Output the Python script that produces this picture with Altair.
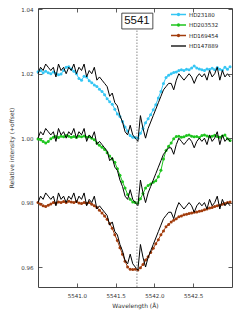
import altair as alt
import pandas as pd

# ---------------- data ----------------
wavelength = [
    5540.500, 5540.533, 5540.566, 5540.599, 5540.632, 5540.665, 5540.698, 5540.731,
    5540.764, 5540.797, 5540.830, 5540.863, 5540.896, 5540.929, 5540.962, 5540.995,
    5541.028, 5541.061, 5541.094, 5541.127, 5541.160, 5541.193, 5541.226, 5541.259,
    5541.292, 5541.325, 5541.358, 5541.391, 5541.424, 5541.457, 5541.490, 5541.523,
    5541.556, 5541.589, 5541.622, 5541.655, 5541.688, 5541.721, 5541.754, 5541.787,
    5541.820, 5541.853, 5541.886, 5541.919, 5541.952, 5541.985, 5542.018, 5542.051,
    5542.084, 5542.117, 5542.150, 5542.183, 5542.216, 5542.249, 5542.282, 5542.315,
    5542.348, 5542.381, 5542.414, 5542.447, 5542.480, 5542.513, 5542.546, 5542.579,
    5542.612, 5542.645, 5542.678, 5542.711, 5542.744, 5542.777, 5542.810, 5542.843,
    5542.876, 5542.909, 5542.942, 5542.975,
]

hd23180 = [
    1.0206, 1.0210, 1.0203, 1.0208, 1.0203, 1.0200, 1.0205, 1.0201, 1.0197, 1.0199,
    1.0210, 1.0220, 1.0222, 1.0215, 1.0208, 1.0200, 1.0185, 1.0180, 1.0192, 1.0190,
    1.0178, 1.0172, 1.0165, 1.0160, 1.0152, 1.0145, 1.0135, 1.0122, 1.0113, 1.0105,
    1.0090, 1.0075, 1.0067, 1.0052, 1.0035, 1.0022, 1.0008, 1.0003, 1.0002, 1.0000,
    1.0015, 1.0030, 1.0048, 1.0060, 1.0073, 1.0088, 1.0104, 1.0125, 1.0145, 1.0170,
    1.0188, 1.0195, 1.0200, 1.0204, 1.0205, 1.0210, 1.0212, 1.0210, 1.0214, 1.0212,
    1.0218, 1.0224, 1.0218, 1.0215, 1.0212, 1.0210, 1.0215, 1.0213, 1.0217, 1.0212,
    1.0219, 1.0214, 1.0211, 1.0220, 1.0214, 1.0222,
]

hd203532 = [
    0.9997, 0.9995, 0.9990, 0.9985, 0.9990, 0.9998, 1.0003, 1.0005, 1.0002, 1.0006,
    1.0004, 1.0008, 1.0006, 1.0003, 1.0005, 1.0002, 1.0006, 1.0004, 1.0007, 1.0003,
    1.0004, 1.0000, 0.9995, 0.9985, 0.9978, 0.9972, 0.9965, 0.9955, 0.9945, 0.9935,
    0.9925, 0.9905, 0.9885, 0.9865, 0.9845, 0.9825, 0.9810, 0.9802, 0.9800, 0.9799,
    0.9812, 0.9828, 0.9845, 0.9853, 0.9858, 0.9863, 0.9868, 0.9880, 0.9900, 0.9935,
    0.9962, 0.9975, 0.9985, 0.9998, 1.0005, 1.0006, 1.0003, 1.0004, 1.0008, 1.0010,
    1.0006, 1.0004, 1.0005, 1.0002, 1.0008, 1.0010, 1.0007, 1.0004, 1.0006, 1.0009,
    1.0005, 1.0003, 1.0007, 1.0010, 0.9998, 0.9993,
]

hd169454 = [
    0.9800, 0.9795, 0.9790, 0.9788, 0.9792, 0.9796, 0.9800, 0.9798, 0.9802, 0.9800,
    0.9803, 0.9800, 0.9804, 0.9802, 0.9800, 0.9803, 0.9799, 0.9797, 0.9800, 0.9798,
    0.9800, 0.9795, 0.9790, 0.9785, 0.9776, 0.9768, 0.9758, 0.9748, 0.9735, 0.9720,
    0.9700, 0.9682, 0.9660, 0.9640, 0.9618, 0.9600, 0.9593, 0.9592, 0.9593, 0.9591,
    0.9598, 0.9608, 0.9622, 0.9632, 0.9645, 0.9658, 0.9672, 0.9685, 0.9700, 0.9712,
    0.9725, 0.9732, 0.9740, 0.9745, 0.9750, 0.9756, 0.9758, 0.9762, 0.9764, 0.9766,
    0.9768, 0.9770, 0.9771, 0.9773, 0.9775, 0.9778, 0.9780, 0.9783, 0.9785, 0.9788,
    0.9790, 0.9792, 0.9795, 0.9797, 0.9800, 0.9802,
]

# comparison star (drawn three times with offsets)
hd147889 = [
    1.000, 1.002, 1.001, 1.003, 1.002, 1.001, 1.002, 0.999, 1.003, 1.001,
    1.002, 1.000, 1.002, 1.001, 1.003, 1.000, 1.002, 1.001, 1.003, 0.999,
    1.001, 1.000, 1.002, 0.998, 0.999, 0.998, 0.997, 0.996, 0.993, 0.994,
    0.991, 0.990, 0.987, 0.985, 0.982, 0.981, 0.984, 0.981, 0.980, 0.979,
    0.987, 0.983, 0.980, 0.983, 0.985, 0.987, 0.989, 0.991, 0.993, 0.995,
    0.996, 0.997, 0.997, 0.995, 0.998, 1.000, 0.999, 0.998, 0.999, 1.000,
    0.999, 0.997, 0.999, 1.000, 0.999, 1.000, 0.998, 1.001, 0.999, 1.000,
    1.002, 0.998, 1.001, 0.999, 1.000, 0.999,
]
black_offsets = [0.02, 0.00, -0.02]

series_names = ["HD23180", "HD203532", "HD169454", "HD147889"]
series_colors = ["#35c6f4", "#1ec51e", "#a23c0c", "#000000"]

x_ticks = [5541.0, 5541.5, 5542.0, 5542.5]
y_ticks = [0.96, 0.98, 1.00, 1.02, 1.04]
x_domain = [5540.5, 5543.0]
y_domain = [0.9538, 1.0404]

line_label = "5541"
line_wavelength = 5541.775
box_x = [5541.58, 5541.98]
box_y = [1.0339, 1.0388]
label_y = 1.0364

# ---------------- tables ----------------
colored = pd.DataFrame(
    [
        {"wavelength": w, "value": v, "series": name}
        for name, vals in zip(series_names[:3], [hd23180, hd203532, hd169454])
        for w, v in zip(wavelength, vals)
    ]
)
black = pd.DataFrame(
    [
        {"wavelength": w, "value": v + off, "copy": k}
        for k, off in enumerate(black_offsets)
        for w, v in zip(wavelength, hd147889)
    ]
)
legend_df = pd.DataFrame({"series": series_names})
rule_df = pd.DataFrame({"x": [line_wavelength], "y": [y_domain[0]], "y2": [box_y[0]]})
box_df = pd.DataFrame({"x": [box_x[0]], "x2": [box_x[1]], "y": [box_y[0]], "y2": [box_y[1]]})
text_df = pd.DataFrame({"x": [line_wavelength], "y": [label_y], "t": [line_label]})

xs = alt.Scale(domain=x_domain, nice=False, zero=False)
ys = alt.Scale(domain=y_domain, nice=False, zero=False)
color_scale = alt.Scale(domain=series_names, range=series_colors)

dot_path = "M-2.15,0L2.15,0M-0.29,0A0.29,0.29,0,1,1,0.29,0A0.29,0.29,0,1,1,-0.29,0Z"
line_path = "M-2.15,0L2.15,0"
shape_scale = alt.Scale(domain=series_names, range=[dot_path, dot_path, dot_path, line_path])

TICK = dict(labels=False, ticks=True, tickSize=4, tickWidth=0.8, tickColor="#333",
            domain=False, grid=False, offset=-4, title=None)

# ---------------- layers ----------------
leg = alt.Legend(
    title=None, orient="none", legendX=136, legendY=2, padding=0,
    symbolSize=49, symbolStrokeWidth=1.3, symbolOpacity=1,
    labelFont="DejaVu Sans", labelFontSize=5.5, labelColor="#222",
    labelOffset=6, rowPadding=1.5,
)
legend_layer = alt.Chart(legend_df).mark_point(opacity=0, filled=False).encode(
    color=alt.Color("series:N", scale=color_scale, legend=leg),
    shape=alt.Shape("series:N", scale=shape_scale, legend=leg),
)

lines_layer = alt.Chart(colored).mark_line(strokeWidth=1).encode(
    x=alt.X("wavelength:Q", scale=xs, axis=alt.Axis(
        orient="bottom", values=x_ticks, format=".1f", ticks=False, domain=False,
        grid=False, labelPadding=6, title="Wavelength (Å)", titlePadding=4)),
    y=alt.Y("value:Q", scale=ys, axis=alt.Axis(
        orient="left", values=y_ticks, format=".2f", ticks=False, domain=False,
        grid=False, labelPadding=5, title="Relative intensity (+offset)", titlePadding=6)),
    color=alt.Color("series:N", scale=color_scale, legend=None),
    detail="series:N",
)

points_layer = alt.Chart(colored).mark_circle(size=9, opacity=1).encode(
    x=alt.X("wavelength:Q", scale=xs, axis=None),
    y=alt.Y("value:Q", scale=ys, axis=None),
    color=alt.Color("series:N", scale=color_scale, legend=None),
)

black_layer = alt.Chart(black).mark_line(strokeWidth=1, color="#000000").encode(
    x=alt.X("wavelength:Q", scale=xs, axis=None),
    y=alt.Y("value:Q", scale=ys, axis=None),
    detail="copy:N",
)

rule_layer = alt.Chart(rule_df).mark_rule(color="#8a8a8a", strokeWidth=1, strokeDash=[1.5, 1.5]).encode(
    x=alt.X("x:Q", scale=xs, axis=alt.Axis(orient="top", values=x_ticks, **TICK)),
    y=alt.Y("y:Q", scale=ys, axis=alt.Axis(orient="right", values=y_ticks, **TICK)),
    y2="y2:Q",
)

box_layer = alt.Chart(box_df).mark_rect(fill="white", stroke="#222", strokeWidth=0.8).encode(
    x=alt.X("x:Q", scale=xs, axis=alt.Axis(orient="bottom", values=x_ticks, **TICK)),
    x2="x2:Q",
    y=alt.Y("y:Q", scale=ys, axis=alt.Axis(orient="left", values=y_ticks, **TICK)),
    y2="y2:Q",
)

text_layer = alt.Chart(text_df).mark_text(
    font="Liberation Sans", fontSize=11.5, color="#111", baseline="middle", align="center"
).encode(
    x=alt.X("x:Q", scale=xs, axis=None),
    y=alt.Y("y:Q", scale=ys, axis=None),
    text="t:N",
)

chart = (
    alt.layer(legend_layer, lines_layer, points_layer, black_layer, rule_layer, box_layer, text_layer)
    .resolve_axis(x="independent", y="independent")
    .resolve_legend(color="independent", shape="independent")
    .properties(
        width=194, height=279,
        autosize=alt.AutoSizeParams(type="none"),
        padding={"left": 30, "top": 0, "right": 9, "bottom": 26},
    )
    .configure_view(stroke="#444", strokeWidth=1)
    .configure_axis(labelFont="DejaVu Sans", labelFontSize=5.5, labelColor="#333",
                    titleFont="DejaVu Sans", titleFontSize=6, titleColor="#333",
                    titleFontWeight="normal")
)

chart.save("out.html", embed_options={"renderer": "svg", "actions": False})
